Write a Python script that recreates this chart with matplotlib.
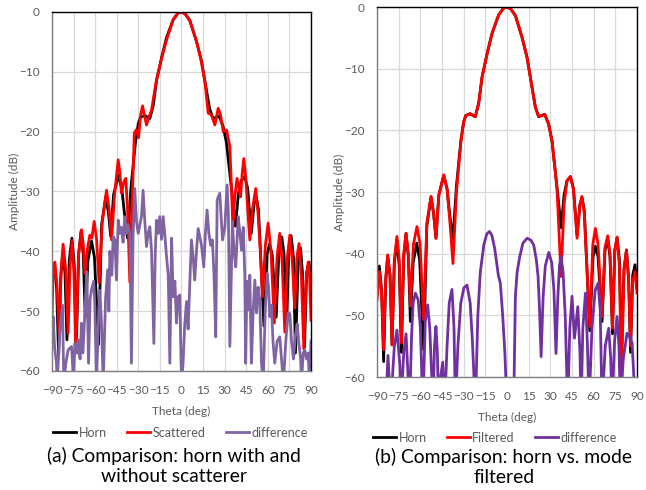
import matplotlib
matplotlib.use("Agg")
import matplotlib.pyplot as plt

plt.rcParams['font.family'] = ['Lato', 'DejaVu Sans']

# ---- data (theta in deg, amplitude in dB) ----
horn_theta = [-90, -88.4, -86.8, -85.4, -84.0, -82.6, -81.0, -79.6, -78.0, -76.2, -74.6, -73.1,
              -71.5, -69.9, -68.3, -66.9, -65.0, -62.5, -60.5, -57.7, -55.5, -52.6, -50.8, -49.2,
              -47.2, -43.8, -41.5, -39.5, -37.5, -35.0, -32.0, -30.0, -28.5, -25.5, -22.0, -19.6,
              -17.3, -13.8, -10.4, -5.8, -2.5, 0.0, 2.5, 5.8, 10.4, 13.8, 17.3, 19.6, 21.9, 24.0,
              26.1, 28.8, 31.2, 34.6, 37.5, 39.5, 41.5, 43.9, 46.0, 48.5, 50.5, 51.9, 53.5, 57.3,
              59.5, 61.2, 63.0, 65.8, 67.8, 69.7, 71.3, 73.0, 74.6, 76.2, 77.8, 79.2, 81.0, 82.7,
              84.2, 85.5, 87.0, 88.6, 90.0]
horn_db = [-44.5, -42.0, -46.0, -57.5, -44.5, -40.4, -43.5, -54.8, -41.5, -37.8, -42.0, -56.0,
           -40.5, -36.7, -40.5, -51.0, -41.5, -38.3, -41.0, -55.6, -35.5, -30.8, -33.5, -37.5,
           -30.5, -27.3, -29.5, -34.0, -37.8, -29.0, -21.8, -18.6, -17.6, -17.3, -17.8, -15.6,
           -11.4, -7.6, -4.3, -1.3, -0.2, 0.0, -0.3, -1.4, -4.9, -8.1, -13.0, -16.2, -17.8, -17.6,
           -17.4, -19.0, -21.8, -29.2, -35.8, -30.5, -28.2, -27.5, -29.5, -37.0, -32.0, -30.9,
           -33.0, -52.5, -40.5, -38.8, -40.5, -51.0, -39.5, -37.6, -40.5, -53.0, -39.5, -37.4,
           -41.0, -57.0, -42.5, -39.4, -44.0, -56.0, -43.5, -41.8, -45.5]

scat_theta = [-90, -89.2, -88.0, -86.6, -85.0, -83.6, -82.3, -80.5, -78.8, -77.4, -76.0, -74.7,
              -73.5, -71.5, -69.5, -68.2, -67.2, -65.3, -63.7, -62.3, -60.7, -59.0, -57.3, -55.0,
              -52.1, -50.3, -48.6, -46.5, -44.0, -42.8, -41.7, -40.2, -38.7, -37.5, -35.9, -34.5,
              -33.5, -32.8, -31.5, -29.8, -28.6, -27.1, -25.8, -24.3, -22.6, -20.8, -19.7, -17.4,
              -14.4, -10.4, -5.8, -2.5, 0.0, 2.5, 5.8, 10.4, 13.8, 16.5, 18.5, 20.8, 23.2, 25.5,
              27.1, 29.0, 31.3, 33.6, 34.7, 35.7, 37.0, 38.6, 40.0, 41.0, 42.2, 43.3, 44.8, 46.0,
              47.5, 49.3, 51.6, 53.3, 54.8, 56.3, 58.3, 60.2, 62.2, 64.5, 66.4, 68.3, 70.0, 71.8,
              73.6, 75.3, 77.0, 78.7, 80.2, 81.7, 83.3, 85.0, 86.6, 88.0, 89.0, 90.0]
scat_db = [-51.0, -44.0, -41.8, -45.5, -54.0, -43.0, -38.8, -43.0, -53.7, -42.0, -38.2, -44.0,
           -57.0, -40.5, -36.4, -39.0, -43.7, -39.5, -37.3, -37.8, -35.0, -38.0, -45.3, -35.0,
           -29.8, -33.0, -38.1, -30.5, -24.7, -27.0, -30.3, -28.5, -27.8, -33.0, -45.2, -33.0,
           -26.0, -20.2, -19.7, -21.0, -17.5, -15.7, -17.2, -18.9, -17.5, -16.4, -14.7, -11.4,
           -8.3, -4.7, -1.3, -0.2, 0.0, -0.3, -1.5, -4.9, -8.3, -12.0, -16.9, -17.2, -18.9, -16.1,
           -17.2, -20.0, -19.7, -22.5, -29.2, -36.0, -31.0, -27.8, -29.5, -30.9, -27.0, -24.5,
           -28.0, -33.0, -38.1, -33.0, -29.5, -34.0, -40.0, -47.6, -39.0, -35.3, -40.0, -52.0,
           -41.0, -37.0, -42.0, -53.5, -41.0, -37.3, -41.5, -49.5, -41.0, -38.7, -44.0, -56.3,
           -45.0, -41.8, -44.0, -51.5]

diffa_theta = [-90, -89.2, -88.2, -86.9, -86.4, -84.5, -82.7, -81.8, -80.4, -78.8, -77.6, -76.4,
               -75.0, -74.1, -72.5, -71.8, -70.5, -69.5, -68.5, -67.5, -65.8, -64.6, -63.5, -62.6,
               -61.0, -60.2, -59.1, -57.5, -56.8, -55.6, -54.4, -52.8, -51.3, -50.5, -49.8, -48.4,
               -47.5, -46.3, -45.2, -44.0, -42.8, -41.8, -40.6, -39.4, -38.2, -37.2, -35.9, -34.8,
               -33.7, -32.5, -31.3, -30.1, -28.9, -27.8, -26.7, -25.5, -24.3, -23.2, -22.0, -20.8,
               -19.2, -18.3, -17.4, -16.2, -15.1, -13.9, -12.7, -11.5, -10.4, -9.2, -8.1, -6.9,
               -5.8, -4.6, -3.5, -2.3, -1.2, 0.0, 1.1, 2.3, 3.5, 4.6, 5.8, 6.9, 8.1, 9.2, 10.4,
               11.6, 12.7, 13.9, 15.5, 16.6, 17.8, 19.0, 20.3, 21.5, 22.6, 23.8, 24.8, 26.6, 28.5,
               30.1, 31.7, 32.6, 33.6, 35.4, 36.5, 37.7, 39.4, 40.6, 41.7, 42.9, 44.0, 44.6, 45.5,
               46.3, 47.5, 48.6, 49.8, 51.0, 52.1, 53.3, 54.4, 55.6, 56.8, 58.2, 59.5, 60.5, 61.4,
               62.5, 63.6, 64.8, 66.5, 68.3, 69.5, 70.8, 72.5, 74.1, 75.3, 76.5, 77.8, 79.2, 80.4,
               81.6, 82.8, 83.4, 84.6, 85.7, 86.9, 88.0, 89.0, 90.0]
diffa_db = [-55.0, -50.9, -56.0, -58.7, -62.0, -53.2, -49.0, -62.0, -58.7, -56.5, -56.2, -55.9,
            -62.0, -55.4, -57.0, -54.8, -58.0, -52.0, -57.0, -52.0, -43.4, -58.7, -48.0, -46.5,
            -45.0, -49.2, -62.0, -50.0, -46.5, -52.0, -62.0, -48.0, -43.1, -50.0, -40.0, -44.0,
            -37.5, -38.1, -44.8, -34.8, -37.0, -36.0, -38.5, -34.2, -37.0, -35.5, -37.0, -58.7,
            -38.0, -29.5, -35.0, -37.0, -35.5, -34.2, -29.8, -35.0, -39.2, -37.0, -35.9, -40.0,
            -55.4, -41.0, -34.8, -37.0, -34.2, -38.0, -34.2, -37.5, -40.9, -44.0, -58.7, -37.8,
            -47.6, -45.0, -52.0, -47.6, -47.3, -62.0, -58.7, -52.0, -48.4, -53.0, -45.0, -38.1,
            -41.0, -44.8, -40.0, -36.2, -37.5, -39.0, -42.6, -37.0, -33.1, -37.0, -39.0, -38.1,
            -44.0, -54.3, -31.4, -30.3, -38.1, -36.0, -28.9, -34.0, -55.9, -35.0, -40.0, -42.6,
            -34.2, -37.0, -39.8, -36.0, -44.0, -58.7, -45.0, -49.8, -44.0, -58.7, -50.0, -44.8,
            -50.3, -46.0, -48.1, -58.7, -62.0, -50.0, -43.7, -46.0, -50.9, -49.0, -55.0, -58.7,
            -55.0, -54.3, -58.0, -62.0, -55.0, -50.3, -50.4, -55.0, -58.0, -54.0, -52.1, -55.4,
            -58.0, -62.0, -57.0, -56.5, -58.0, -57.0, -62.0, -55.0]

filt_theta = [-90, -88.2, -86.8, -85.4, -84.0, -82.6, -81.0, -79.6, -78.0, -76.2, -74.6, -73.1,
              -71.5, -69.9, -68.3, -66.9, -64.8, -62.3, -60.2, -57.7, -55.5, -52.6, -50.8, -49.2,
              -47.2, -43.8, -41.5, -39.5, -37.4, -35.0, -32.0, -30.0, -28.5, -25.5, -22.0, -19.6,
              -17.3, -13.8, -10.4, -5.8, -2.5, 0.0, 2.5, 5.8, 10.4, 13.8, 17.3, 19.6, 21.9, 24.0,
              26.1, 28.8, 31.2, 34.6, 37.4, 39.5, 41.5, 43.9, 46.0, 48.5, 50.5, 51.9, 53.5, 57.3,
              59.4, 61.2, 63.0, 65.8, 67.8, 69.7, 71.3, 73.0, 74.6, 76.2, 77.8, 79.2, 81.0, 82.7,
              84.2, 85.5, 87.0, 88.6, 90.0]
filt_db = [-47.5, -42.9, -46.5, -55.6, -44.0, -40.2, -43.5, -54.8, -41.0, -37.2, -41.0, -54.5,
           -40.0, -36.7, -40.0, -48.5, -38.5, -35.6, -38.5, -50.7, -35.0, -30.7, -33.5, -37.5,
           -30.5, -27.2, -29.5, -35.0, -41.6, -30.0, -22.0, -18.6, -17.6, -17.3, -17.8, -15.6,
           -11.4, -7.6, -4.3, -1.3, -0.2, 0.0, -0.3, -1.4, -4.9, -8.1, -13.0, -16.2, -17.8, -17.6,
           -17.4, -19.0, -21.8, -29.5, -43.7, -32.0, -28.2, -27.5, -29.5, -37.5, -32.0, -30.7,
           -33.5, -51.8, -38.5, -35.9, -38.5, -50.2, -39.0, -37.1, -40.0, -52.1, -39.5, -37.3,
           -42.0, -61.0, -42.5, -39.4, -44.5, -55.0, -44.5, -42.9, -46.4]

diffb_theta = [-84.0, -82.4, -80.6, -78.0, -76.2, -74.2, -73.4, -71.5, -69.9, -68.5, -67.5, -66.0,
               -65.0, -63.4, -61.5, -60.0, -58.2, -56.6, -54.9, -53.5, -51.2, -50.2, -49.2, -48.2,
               -47.4, -46.0, -44.5, -43.2, -41.5, -40.0, -38.1, -36.7, -35.7, -34.0, -32.0, -29.8,
               -27.7, -25.5, -24.0, -21.9, -20.2, -18.5, -16.0, -14.0, -12.2, -10.5, -8.5, -6.0,
               -4.6, -3.0, -1.5, 0.0, 4.6, 5.8, 7.0, 8.8, 11.0, 13.9, 16.5, 18.5, 20.3, 21.5, 22.5,
               23.6, 25.0, 26.5, 28.9, 31.0, 32.5, 33.9, 35.2, 36.3, 37.4, 38.8, 40.3, 42.0, 43.5,
               45.0, 46.7, 49.0, 50.5, 51.3, 52.5, 54.3, 55.7, 56.8, 58.8, 61.0, 63.0, 64.5, 65.8,
               68.0, 70.4, 71.8, 72.7, 74.5, 76.2, 77.5, 78.5, 80.5, 83.1, 85.0, 86.6, 88.9]
diffb_db = [-65.0, -56.5, -65.0, -55.0, -52.4, -58.0, -65.0, -56.0, -53.0, -60.0, -65.0, -53.0,
            -48.0, -46.4, -47.5, -52.0, -65.0, -51.0, -48.3, -52.0, -65.0, -55.0, -51.8, -56.0,
            -65.0, -60.0, -57.6, -65.0, -55.0, -48.0, -45.8, -52.0, -65.0, -55.0, -48.0, -45.5,
            -45.1, -48.0, -54.0, -65.0, -50.0, -43.0, -38.5, -36.8, -36.4, -37.0, -39.2, -43.5,
            -44.8, -50.0, -56.0, -65.0, -65.0, -46.9, -43.0, -40.5, -38.3, -37.5, -37.8, -38.6,
            -41.0, -43.7, -49.0, -56.7, -47.0, -42.0, -39.8, -41.5, -46.0, -56.2, -47.0, -42.0,
            -40.4, -43.0, -50.0, -65.0, -52.0, -46.9, -53.7, -48.6, -56.0, -65.0, -52.0, -46.4,
            -55.0, -65.0, -52.0, -46.0, -44.8, -49.0, -65.0, -55.0, -52.1, -57.0, -65.0, -54.0,
            -50.2, -55.0, -65.0, -57.0, -52.9, -53.5, -54.5, -65.0]

xticks = list(range(-90, 91, 15))
yticks = list(range(-60, 1, 10))

fig = plt.figure(figsize=(6.46, 4.90), dpi=100)
ax1 = fig.add_axes([0.0805, 0.2429, 0.4009, 0.7327])
ax2 = fig.add_axes([0.5836, 0.2306, 0.4025, 0.7551])


def style(ax):
    ax.set_xlim(-90, 90)
    ax.set_ylim(-60, 0)
    ax.set_xticks(xticks)
    ax.set_yticks(yticks)
    ax.grid(True, color='#d9d9d9', lw=0.9)
    ax.set_axisbelow(True)
    ax.tick_params(length=0, labelsize=8.5, colors='#595959')
    ax.tick_params(axis='x', pad=10)
    ax.tick_params(axis='y', pad=9)
    for s in ['top', 'right']:
        ax.spines[s].set_color('black')
        ax.spines[s].set_linewidth(1.0)
    for s in ['left', 'bottom']:
        ax.spines[s].set_color('#7f7f7f')
        ax.spines[s].set_linewidth(1.0)
    ax.set_xlabel('Theta (deg)', fontsize=8.5, color='#595959', labelpad=7)
    ax.set_ylabel('Amplitude (dB)', fontsize=8.5, color='#595959', labelpad=-1)


# (a) horn with and without scatterer
ax1.plot(horn_theta, horn_db, color='black', lw=2, label='Horn')
ax1.plot(scat_theta, scat_db, color='#ff0000', lw=2, label='Scattered')
ax1.plot(diffa_theta, diffa_db, color='#8064a2', lw=2, label='difference')
style(ax1)

# (b) horn vs. mode filtered
ax2.plot(horn_theta, horn_db, color='black', lw=2, label='Horn')
ax2.plot(filt_theta, filt_db, color='#ff0000', lw=2, label='Filtered')
ax2.plot(diffb_theta, diffb_db, color='#7030a0', lw=2, label='difference')
style(ax2)

for ax, cx, cy in [(ax1, 0.2794, 0.117), (ax2, 0.766, 0.1067)]:
    ax.legend(loc='center', bbox_to_anchor=(cx, cy), bbox_transform=fig.transFigure,
              ncol=3, frameon=False, fontsize=9, handlelength=1.85, handletextpad=0.2,
              columnspacing=1.6, labelcolor='#595959', borderpad=0, borderaxespad=0)

fig.text(0.269, 0.0694, '(a) Comparison: horn with and', ha='center', va='center', fontsize=13.9)
fig.text(0.269, 0.0271, 'without scatterer', ha='center', va='center', fontsize=13.9)
fig.text(0.780, 0.068, '(b) Comparison: horn vs. mode', ha='center', va='center', fontsize=13.9)
fig.text(0.780, 0.0245, 'filtered', ha='center', va='center', fontsize=13.9)

fig.savefig('out.png', dpi=100)
